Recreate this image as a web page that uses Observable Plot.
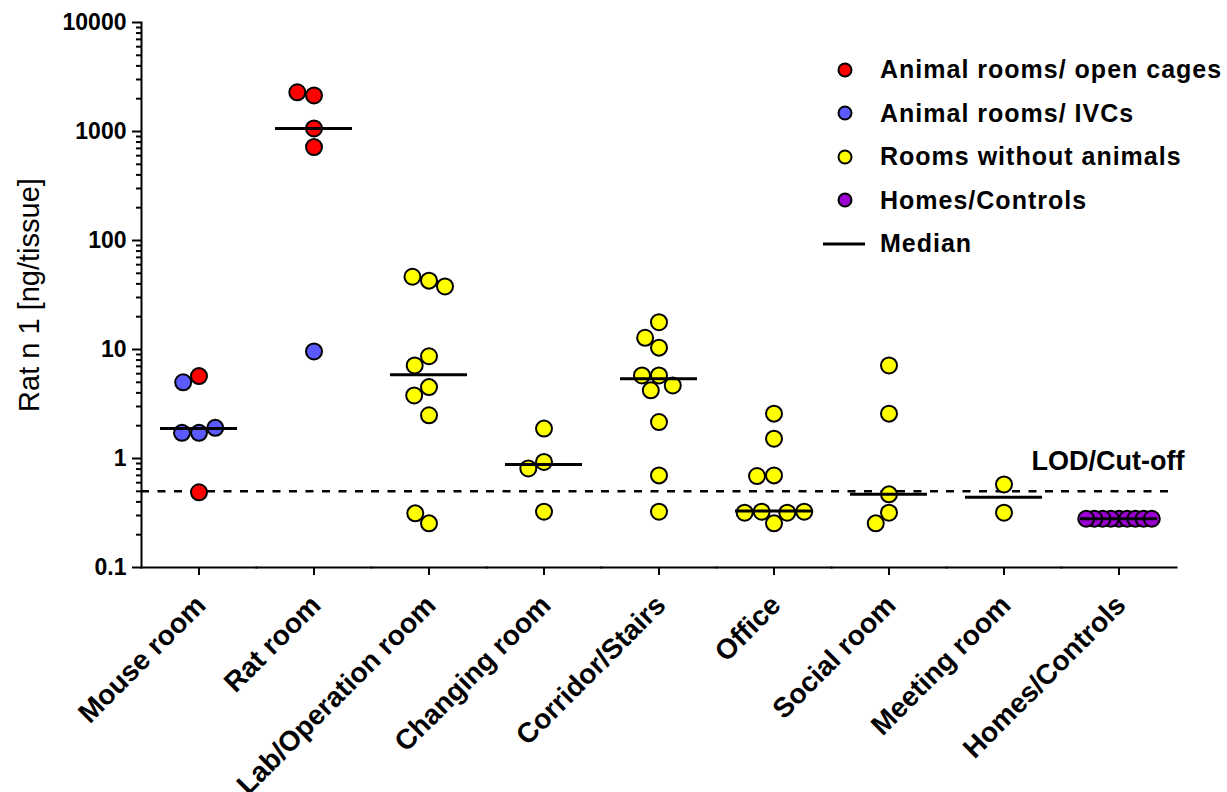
<!DOCTYPE html>
<html>
<head>
<meta charset="utf-8">
<script src="https://cdn.jsdelivr.net/npm/d3@7"></script>
<script src="https://cdn.jsdelivr.net/npm/@observablehq/plot@0.6"></script>
<style>
  body { margin: 0; background: #fff; font-family: "Liberation Sans", Arial, sans-serif; }
  #wrap { position: relative; width: 1227px; height: 792px; overflow: hidden; }
  #legend { position: absolute; left: 818px; top: 48px; }
  .row { display: flex; align-items: center; height: 43.5px; }
  .sym { width: 62px; display: flex; justify-content: flex-start; }
  .lbl { font-weight: bold; font-size: 25px; letter-spacing: 1px; color: #000; white-space: nowrap; }
</style>
</head>
<body>
<div id="wrap"><div id="chart"></div><div id="legend"></div></div>
<script>
const categories = ["Mouse room", "Rat room", "Lab/Operation room", "Changing room", "Corridor/Stairs", "Office", "Social room", "Meeting room", "Homes/Controls"];
const seriesNames = ["Animal rooms/ open cages", "Animal rooms/ IVCs", "Rooms without animals", "Homes/Controls"];
const seriesColors = ["#ff0000", "#5a5aff", "#ffff00", "#9a00d0"];

const openCages = [
  ["Mouse room", 5.7], ["Mouse room", 0.49],
  ["Rat room", 1067], ["Rat room", 2140], ["Rat room", 2290], ["Rat room", 720]
];
const ivcs = [
  ["Mouse room", 5.0], ["Mouse room", 1.72], ["Mouse room", 1.72], ["Mouse room", 1.91],
  ["Rat room", 9.6]
];
const noAnimals = [
  ["Lab/Operation room", 42.8], ["Lab/Operation room", 46.5], ["Lab/Operation room", 37.9],
  ["Lab/Operation room", 8.67], ["Lab/Operation room", 7.14], ["Lab/Operation room", 4.52],
  ["Lab/Operation room", 3.79], ["Lab/Operation room", 2.49], ["Lab/Operation room", 0.254],
  ["Lab/Operation room", 0.314],
  ["Changing room", 1.88], ["Changing room", 0.93], ["Changing room", 0.81], ["Changing room", 0.325],
  ["Corridor/Stairs", 10.4], ["Corridor/Stairs", 17.8], ["Corridor/Stairs", 12.8],
  ["Corridor/Stairs", 5.78], ["Corridor/Stairs", 5.78], ["Corridor/Stairs", 4.68],
  ["Corridor/Stairs", 4.22], ["Corridor/Stairs", 2.16], ["Corridor/Stairs", 0.70],
  ["Corridor/Stairs", 0.325],
  ["Office", 2.58], ["Office", 1.52], ["Office", 0.70], ["Office", 0.69], ["Office", 0.254],
  ["Office", 0.325], ["Office", 0.318], ["Office", 0.318], ["Office", 0.325],
  ["Social room", 7.14], ["Social room", 2.58], ["Social room", 0.469], ["Social room", 0.318],
  ["Social room", 0.254],
  ["Meeting room", 0.578], ["Meeting room", 0.318]
];
const homesControls = [
  ["Homes/Controls", 0.28], ["Homes/Controls", 0.28], ["Homes/Controls", 0.28],
  ["Homes/Controls", 0.28], ["Homes/Controls", 0.28], ["Homes/Controls", 0.28],
  ["Homes/Controls", 0.28], ["Homes/Controls", 0.28], ["Homes/Controls", 0.28]
];
const medians = [1.88, 1067, 5.87, 0.88, 5.4, 0.33, 0.469, 0.44, 0.28];
const lod = 0.5;
const lodLabel = "LOD/Cut-off";
const yLabel = "Rat n 1 [ng/tissue]";
const yTicks = [0.1, 1, 10, 100, 1000, 10000];
const yMinorTicks = yTicks.slice(0, -1).flatMap(d => [2, 3, 4, 5, 6, 7, 8, 9].map(k => +(d * k).toPrecision(3)));

const toRows = (arr, s) => arr.map(([room, value]) => ({room, value, series: seriesNames[s]}));
const points = [...toRows(openCages, 0), ...toRows(ivcs, 1), ...toRows(noAnimals, 2)];
const homePoints = toRows(homesControls, 3);
const medianRows = categories.map((room, i) => ({room, m: medians[i]}));

const bold = {fontWeight: "bold"};

const chart = Plot.plot({
  width: 1227,
  height: 792,
  marginLeft: 138,
  marginRight: 49,
  marginTop: 22,
  marginBottom: 225,
  style: {fontFamily: "'Liberation Sans', Arial, sans-serif", color: "#000", background: "#fff", overflow: "visible"},
  fx: {domain: categories, padding: 0, axis: null, label: null},
  y: {type: "log", domain: [0.1, 10000], axis: null},
  color: {domain: seriesNames, range: seriesColors},
  marks: [
    Plot.ruleY([lod], {strokeDasharray: "8,8.5", strokeWidth: 2.5, stroke: "#000"}),
    Plot.dot(points, Plot.dodgeX({anchor: "middle", padding: 1}, {
      fx: "room", y: "value", r: 8, fill: "series", stroke: "#000", strokeWidth: 2
    })),
    Plot.dot(homePoints, Plot.dodgeX({anchor: "middle", padding: -7.8}, {
      fx: "room", y: "value", r: 8, fill: "series", stroke: "#000", strokeWidth: 2
    })),
    Plot.tickY(medianRows, {fx: "room", y: "m", strokeWidth: 3, stroke: "#000", insetLeft: 19, insetRight: 19}),
    Plot.text([{room: categories[categories.length - 1], y: lod, t: lodLabel}], {
      fx: "room", y: "y", text: "t", frameAnchor: "right", textAnchor: "end", lineAnchor: "middle",
      dx: 8, dy: -30, fontSize: 27, ...bold, fill: "#000"
    }),
    Plot.frame({anchor: "bottom", strokeWidth: 2, stroke: "#000"}),
    Plot.frame({anchor: "left", facetAnchor: "left", strokeWidth: 2, stroke: "#000"}),
    Plot.axisY({ticks: yMinorTicks, tickSize: 5, tickFormat: () => "", strokeWidth: 2, label: null}),
    Plot.axisY({ticks: yTicks, tickSize: 9, tickPadding: 6, tickFormat: d => String(d), fontSize: 23, ...bold, strokeWidth: 2, label: null}),
    Plot.axisFx({anchor: "bottom", tickSize: 8, tickFormat: () => "", strokeWidth: 2, label: null}),
    Plot.text(categories, {
      fx: d => d, text: d => d, frameAnchor: "bottom", rotate: -45, textAnchor: "end", lineAnchor: "middle",
      dx: 2, dy: 33, fontSize: 28, ...bold, fill: "#000"
    }),
    Plot.text([{room: categories[0], t: yLabel}], {
      fx: "room", text: "t", frameAnchor: "left", rotate: -90, textAnchor: "middle", lineAnchor: "middle",
      dx: -112, fontSize: 29, fill: "#000"
    })
  ]
});
document.getElementById("chart").appendChild(chart);

// Legend (overlay, top right)
const legend = document.getElementById("legend");
const legendItems = seriesNames.map((name, i) => ({name, color: seriesColors[i], type: "dot"}))
  .concat([{name: "Median", type: "line"}]);
for (const it of legendItems) {
  const row = document.createElement("div");
  row.className = "row";
  const sym = document.createElement("div");
  sym.className = "sym";
  sym.innerHTML = it.type === "dot"
    ? `<svg width="50" height="20"><circle cx="27" cy="10" r="6.5" fill="${it.color}" stroke="#000" stroke-width="2"/></svg>`
    : `<svg width="50" height="20"><line x1="5" x2="47" y1="10" y2="10" stroke="#000" stroke-width="3"/></svg>`;
  const lbl = document.createElement("div");
  lbl.className = "lbl";
  lbl.textContent = it.name;
  row.appendChild(sym);
  row.appendChild(lbl);
  legend.appendChild(row);
}
</script>
</body>
</html>
